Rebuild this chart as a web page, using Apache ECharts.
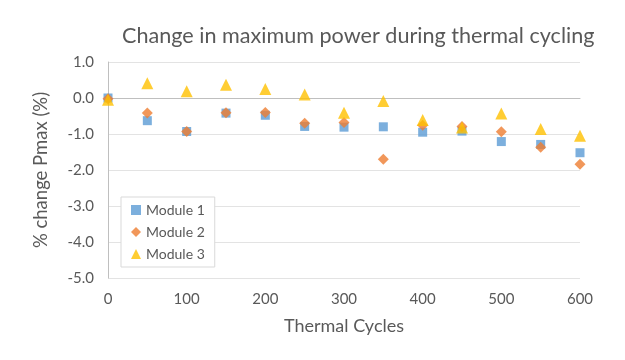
<!DOCTYPE html>
<html><head><meta charset="utf-8">
<script src="https://cdn.jsdelivr.net/npm/echarts@6/dist/echarts.min.js"></script>
<style>html,body{margin:0;padding:0;background:#fff}#c{width:625px;height:360px}</style>
</head><body><div id="c"></div>
<script>
const cycles = [0, 50, 100, 150, 200, 250, 300, 350, 400, 450, 500, 550, 600];
const module1 = [0.00, -0.63, -0.93, -0.42, -0.48, -0.79, -0.81, -0.80, -0.95, -0.92, -1.21, -1.29, -1.52];
const module2 = [-0.02, -0.42, -0.93, -0.41, -0.40, -0.70, -0.68, -1.70, -0.76, -0.79, -0.94, -1.37, -1.84];
const module3 = [-0.05, 0.41, 0.19, 0.37, 0.25, 0.10, -0.41, -0.08, -0.61, -0.82, -0.43, -0.86, -1.05];
const yTicks = [1.0, 0.0, -1.0, -2.0, -3.0, -4.0, -5.0];

const pair = arr => cycles.map((c, i) => [c, arr[i]]);
const font = 'Lato, "Open Sans", sans-serif';
const chart = echarts.init(document.getElementById('c'));
chart.setOption({
  animation: false,
  backgroundColor: '#fff',
  textStyle: { fontFamily: font },
  title: {
    text: 'Change in maximum power during thermal cycling',
    left: 117, top: 20,
    textStyle: { fontFamily: font, fontSize: 21.6, fontWeight: 'normal', color: '#595959' }
  },
  grid: { left: 108, right: 45, top: 62, bottom: 82 },
  legend: {
    orient: 'vertical', left: 121, top: 197,
    width: 97, itemGap: 8, itemWidth: 10, itemHeight: 10,
    padding: [6, 10, 6, 10],
    borderColor: '#d9d9d9', borderWidth: 1, backgroundColor: '#fff',
    textStyle: { fontFamily: font, fontSize: 14, color: '#595959' },
    data: ['Module 1', 'Module 2', 'Module 3']
  },
  xAxis: {
    type: 'value', min: 0, max: 600, interval: 100,
    name: 'Thermal Cycles', nameLocation: 'middle', nameGap: 39,
    nameTextStyle: { fontFamily: font, fontSize: 18, color: '#595959' },
    axisLine: { show: true, lineStyle: { color: '#bfbfbf' } },
    axisTick: { show: false },
    splitLine: { show: false },
    axisLabel: { fontFamily: font, fontSize: 15, color: '#595959', margin: 14 }
  },
  yAxis: {
    type: 'value', min: -5, max: 1, interval: 1,
    name: '% change Pmax (%)', nameLocation: 'middle', nameGap: 57, nameRotate: 90,
    nameTextStyle: { fontFamily: font, fontSize: 18.5, color: '#595959' },
    axisLine: { show: true, lineStyle: { color: '#bfbfbf' } },
    axisTick: { show: false },
    splitLine: { show: true, lineStyle: { color: '#e3e3e3' } },
    axisLabel: {
      fontFamily: font, fontSize: 15, color: '#595959', margin: 14,
      formatter: v => yTicks.includes(v) ? v.toFixed(1) : ''
    }
  },
  series: [
    { name: 'Module 1', type: 'scatter', symbol: 'rect', symbolSize: 9,
      itemStyle: { color: '#5b9bd5' }, data: pair(module1), z: 3 },
    { name: 'Module 2', type: 'scatter', symbol: 'diamond', symbolSize: 11,
      itemStyle: { color: '#ed7d31' }, data: pair(module2), z: 4 },
    { name: 'Module 3', type: 'scatter', symbol: 'triangle', symbolSize: 12,
      itemStyle: { color: '#ffc000' }, data: pair(module3), z: 5 }
  ]
});
</script></body></html>
